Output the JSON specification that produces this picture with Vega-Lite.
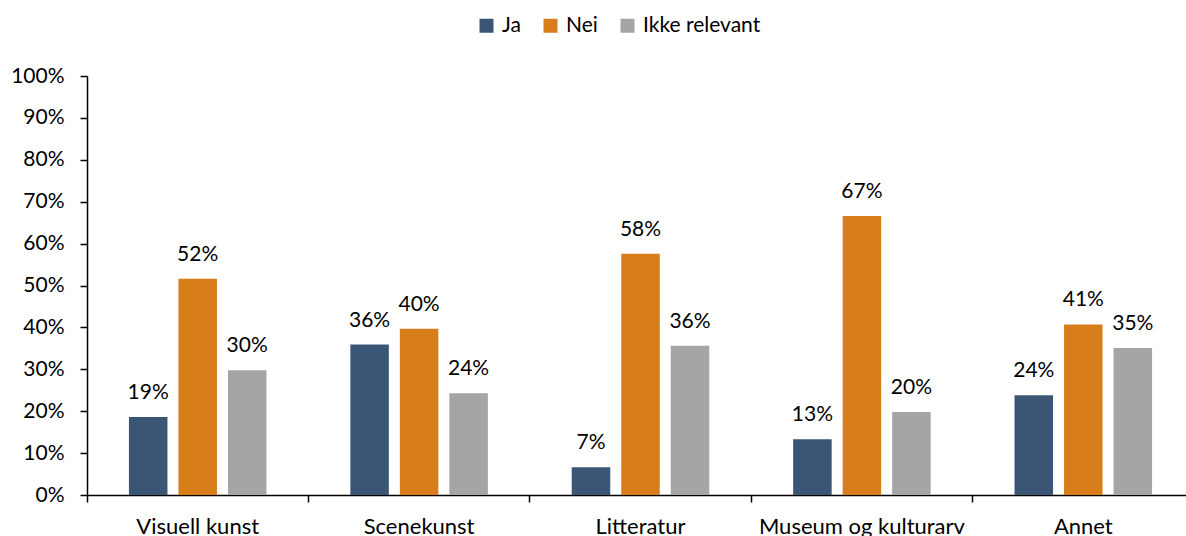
{
  "$schema": "https://vega.github.io/schema/vega-lite/v6.json",
  "autosize": "none",
  "width": 1107,
  "height": 419,
  "padding": {"left": 87, "top": 76, "right": 0, "bottom": 41},
  "background": "white",
  "config": {"view": {"stroke": null}, "font": "Lato"},
  "data": {
    "values": [
      {"kategori": "Visuell kunst", "svar": "Ja", "andel": 0.186},
      {"kategori": "Visuell kunst", "svar": "Nei", "andel": 0.516},
      {"kategori": "Visuell kunst", "svar": "Ikke relevant", "andel": 0.298},
      {"kategori": "Scenekunst", "svar": "Ja", "andel": 0.359},
      {"kategori": "Scenekunst", "svar": "Nei", "andel": 0.397},
      {"kategori": "Scenekunst", "svar": "Ikke relevant", "andel": 0.243},
      {"kategori": "Litteratur", "svar": "Ja", "andel": 0.066},
      {"kategori": "Litteratur", "svar": "Nei", "andel": 0.576},
      {"kategori": "Litteratur", "svar": "Ikke relevant", "andel": 0.356},
      {"kategori": "Museum og kulturarv", "svar": "Ja", "andel": 0.133},
      {"kategori": "Museum og kulturarv", "svar": "Nei", "andel": 0.666},
      {"kategori": "Museum og kulturarv", "svar": "Ikke relevant", "andel": 0.198},
      {"kategori": "Annet", "svar": "Ja", "andel": 0.238},
      {"kategori": "Annet", "svar": "Nei", "andel": 0.407},
      {"kategori": "Annet", "svar": "Ikke relevant", "andel": 0.351}
    ]
  },
  "encoding": {
    "x": {
      "field": "kategori",
      "type": "nominal",
      "sort": ["Visuell kunst", "Scenekunst", "Litteratur", "Museum og kulturarv", "Annet"],
      "scale": {"paddingInner": 0, "paddingOuter": 0},
      "axis": {
        "title": null,
        "bandPosition": 0,
        "labelAngle": 0,
        "labelLimit": 0,
        "labelFontSize": 22,
        "labelColor": "#000000",
        "labelPadding": 14,
        "tickSize": 7,
        "tickColor": "#000000",
        "tickWidth": 1.5,
        "domainColor": "#000000",
        "domainWidth": 1.5,
        "grid": false
      }
    },
    "xOffset": {
      "field": "svar",
      "type": "nominal",
      "sort": ["Ja", "Nei", "Ikke relevant"],
      "scale": {"paddingInner": 0.222, "paddingOuter": 0.847}
    },
    "y": {
      "field": "andel",
      "type": "quantitative",
      "scale": {"domain": [0, 1], "nice": false},
      "axis": {
        "title": null,
        "values": [0, 0.1, 0.2, 0.3, 0.4, 0.5, 0.6, 0.7, 0.8, 0.9, 1],
        "format": ".0%",
        "grid": false,
        "labelFontSize": 21,
        "labelColor": "#000000",
        "labelPadding": 16,
        "tickSize": 7,
        "tickColor": "#000000",
        "tickWidth": 1.5,
        "domainColor": "#000000",
        "domainWidth": 1.5
      }
    }
  },
  "layer": [
    {
      "mark": {"type": "bar"},
      "encoding": {
        "color": {
          "field": "svar",
          "type": "nominal",
          "sort": ["Ja", "Nei", "Ikke relevant"],
          "scale": {"domain": ["Ja", "Nei", "Ikke relevant"], "range": ["#3B5675", "#D77E1A", "#A5A5A5"]},
          "legend": {
            "title": null,
            "orient": "none",
            "legendX": 389,
            "legendY": -61,
            "direction": "horizontal",
            "symbolType": "square",
            "symbolSize": 196,
            "symbolStrokeWidth": 0,
            "labelFontSize": 21,
            "labelColor": "#000000",
            "labelOffset": 5,
            "columnPadding": 19,
            "padding": 0
          }
        }
      }
    },
    {
      "mark": {"type": "text", "dy": -18, "baseline": "alphabetic", "align": "center", "fontSize": 21, "fill": "#000000"},
      "encoding": {
        "text": {"field": "andel", "type": "quantitative", "format": ".0%"}
      }
    }
  ]
}
